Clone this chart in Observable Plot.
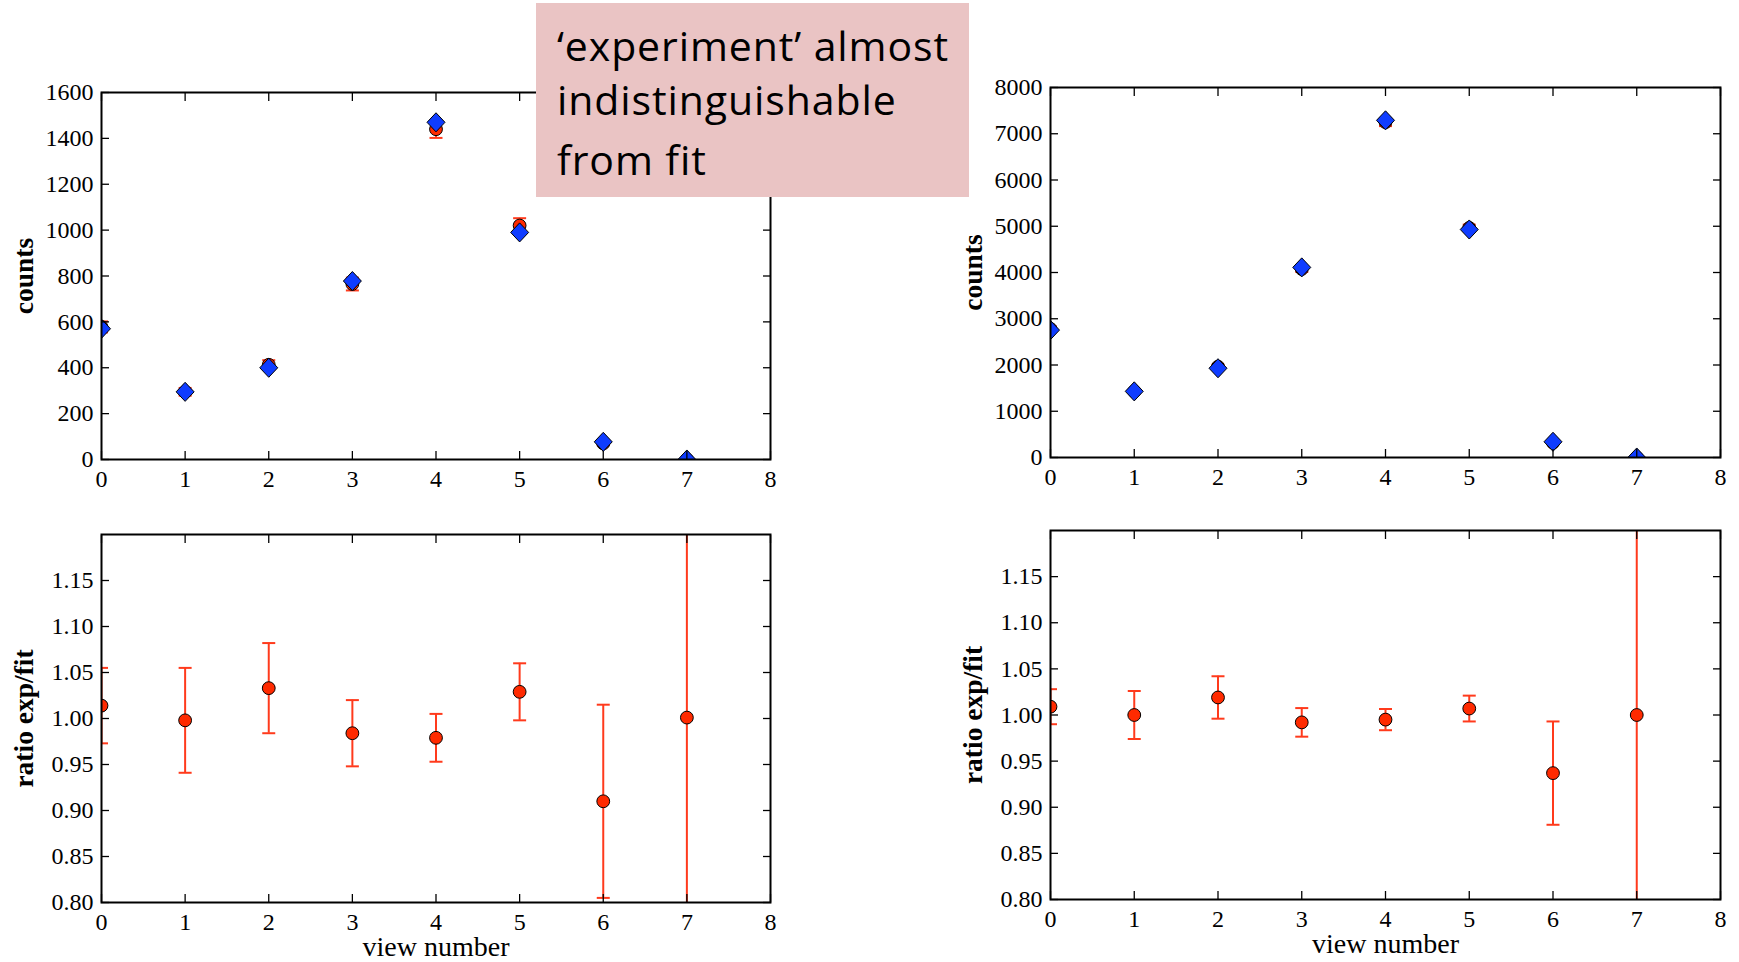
<!DOCTYPE html>
<html>
<head>
<meta charset="utf-8">
<script src="https://cdn.jsdelivr.net/npm/d3@7"></script>
<script src="https://cdn.jsdelivr.net/npm/@observablehq/plot@0.6"></script>
<style>
  html, body { margin: 0; padding: 0; background: #ffffff; }
  #page { position: relative; width: 1739px; height: 962px; overflow: hidden; background: #ffffff; }
  .panel { position: absolute; }
  #note { position: absolute; left: 536px; top: 3px; width: 433px; height: 194px; background: #eac4c4; }
  #note div { position: absolute; left: 21px; font-family: "Open Sans", sans-serif; font-size: 41px; line-height: 41px; letter-spacing: 0.9px; color: #000; white-space: nowrap; }
</style>
</head>
<body>
<div id="page">
  <div class="panel" id="tl" style="left:0px;top:50px"></div>
  <div class="panel" id="tr" style="left:950px;top:40px"></div>
  <div class="panel" id="bl" style="left:0px;top:500px"></div>
  <div class="panel" id="br" style="left:950px;top:500px"></div>
  <div id="note">
    <div style="top:22px">‘experiment’ almost</div>
    <div style="top:76px">indistinguishable</div>
    <div style="top:136px">from fit</div>
  </div>
</div>
<script>
// ---- data ----
const views = [0, 1, 2, 3, 4, 5, 6, 7];
const xTicks = [0, 1, 2, 3, 4, 5, 6, 7, 8];

const leftExp = [578, 295, 413, 765, 1440, 1020, 70, 0];
const leftExpErr = [24, 17, 20, 28, 38, 32, 8, 1];
const leftFit = [570, 295, 400, 778, 1470, 990, 77, 0];
const leftCountTicks = [0, 200, 400, 600, 800, 1000, 1200, 1400, 1600];

const rightExp = [2780, 1430, 1965, 4075, 7250, 4965, 320, 0];
const rightExpErr = [53, 38, 44, 64, 85, 70, 18, 1];
const rightFit = [2755, 1430, 1930, 4110, 7290, 4930, 340, 0];
const rightCountTicks = [0, 1000, 2000, 3000, 4000, 5000, 6000, 7000, 8000];

const leftRatio = [1.014, 0.998, 1.033, 0.984, 0.979, 1.029, 0.910, 1.001];
const leftRatioErr = [0.041, 0.057, 0.049, 0.036, 0.026, 0.031, 0.105, 1.0];
const rightRatio = [1.009, 1.000, 1.019, 0.992, 0.995, 1.007, 0.937, 1.000];
const rightRatioErr = [0.019, 0.026, 0.023, 0.0155, 0.0115, 0.014, 0.056, 1.0];
const ratioTicks = [0.80, 0.85, 0.90, 0.95, 1.00, 1.05, 1.10, 1.15];

// ---- styles ----
const RED = "#ff2a00";
const RED_BAR = "#ff3a1c";
const BLUE = "#0f3cff";

const capSymbol = {
  draw(ctx, size) {
    const r = Math.sqrt(size / Math.PI);
    ctx.moveTo(-r, 0); ctx.lineTo(r, 0);
  }
};
const diamondSymbol = {
  draw(ctx, size) {
    const r = Math.sqrt(size / Math.PI);
    ctx.moveTo(0, -r * 1.06);
    ctx.lineTo(r, 0);
    ctx.lineTo(0, r * 1.06);
    ctx.lineTo(-r, 0);
    ctx.closePath();
  }
};

function rows(vals, errs, fits) {
  return views.map((v, i) => ({
    view: v, val: vals[i], lo: vals[i] - errs[i], hi: vals[i] + errs[i],
    fit: fits ? fits[i] : null
  }));
}

function axes(yTicks, yFmt) {
  const common = {fontSize: 24, strokeWidth: 1.3};
  return [
    Plot.axisX({anchor: "bottom", ticks: xTicks, tickSize: 0, tickPadding: 10, tickFormat: d3.format("d"), label: null, ...common}),
    Plot.axisX({anchor: "bottom", ticks: xTicks, tickSize: -8, tickFormat: () => "", label: null, ...common}),
    Plot.axisX({anchor: "top", ticks: xTicks, tickSize: -8, tickFormat: () => "", label: null, ...common}),
    Plot.axisY({anchor: "left", ticks: yTicks, tickSize: 0, tickPadding: 8, tickFormat: yFmt, label: null, ...common}),
    Plot.axisY({anchor: "left", ticks: yTicks, tickSize: -8, tickFormat: () => "", label: null, ...common}),
    Plot.axisY({anchor: "right", ticks: yTicks, tickSize: -8, tickFormat: () => "", label: null, ...common})
  ];
}

function panel({width, height, margins, yDomain, yTicks, yFmt, data, withFit, yLabel, xLabel}) {
  const marks = [
    Plot.ruleX(data, {x: "view", y1: "lo", y2: "hi", stroke: RED_BAR, strokeWidth: 2, clip: true}),
    Plot.dot(data, {x: "view", y: "lo", symbol: capSymbol, r: 6.5, stroke: RED_BAR, strokeWidth: 2, fill: "none", clip: true}),
    Plot.dot(data, {x: "view", y: "hi", symbol: capSymbol, r: 6.5, stroke: RED_BAR, strokeWidth: 2, fill: "none", clip: true}),
    Plot.dot(data, {x: "view", y: "val", r: 6.4, fill: RED, stroke: "#000", strokeWidth: 1, clip: true})
  ];
  if (withFit) {
    marks.push(Plot.dot(data, {x: "view", y: "fit", symbol: diamondSymbol, r: 9, fill: BLUE, stroke: "#000", strokeWidth: 1, clip: true}));
  }
  marks.push(...axes(yTicks, yFmt));
  marks.push(Plot.frame({stroke: "#000", strokeWidth: 2}));
  marks.push(Plot.text([yLabel], {text: d => d, frameAnchor: "left", textAnchor: "middle", dx: -77, rotate: -90, fontSize: 27.5, fontWeight: "bold", fill: "#000"}));
  if (xLabel) {
    marks.push(Plot.text([xLabel], {text: d => d, frameAnchor: "bottom", textAnchor: "middle", dy: 45, lineAnchor: "middle", fontSize: 28, fill: "#000"}));
  }
  return Plot.plot({
    width, height,
    marginLeft: margins[0], marginRight: margins[1], marginTop: margins[2], marginBottom: margins[3],
    style: {fontFamily: "'Liberation Serif', 'DejaVu Serif', serif", fontSize: "24px", background: "transparent", color: "#000", overflow: "visible"},
    x: {domain: [0, 8]},
    y: {domain: yDomain},
    marks
  });
}

const countFmt = d3.format("d");
const ratioFmt = d3.format(".2f");

document.getElementById("tl").append(panel({
  width: 800, height: 450, margins: [101, 30, 42, 41],
  yDomain: [0, 1600], yTicks: leftCountTicks, yFmt: countFmt,
  data: rows(leftExp, leftExpErr, leftFit), withFit: true, yLabel: "counts"
}));
document.getElementById("tr").append(panel({
  width: 789, height: 460, margins: [100, 19, 47, 43],
  yDomain: [0, 8000], yTicks: rightCountTicks, yFmt: countFmt,
  data: rows(rightExp, rightExpErr, rightFit), withFit: true, yLabel: "counts"
}));
document.getElementById("bl").append(panel({
  width: 800, height: 462, margins: [101, 30, 34, 60],
  yDomain: [0.8, 1.2], yTicks: ratioTicks, yFmt: ratioFmt,
  data: rows(leftRatio, leftRatioErr, null), withFit: false, yLabel: "ratio exp/fit", xLabel: "view number"
}));
document.getElementById("br").append(panel({
  width: 789, height: 462, margins: [100, 19, 30, 63],
  yDomain: [0.8, 1.2], yTicks: ratioTicks, yFmt: ratioFmt,
  data: rows(rightRatio, rightRatioErr, null), withFit: false, yLabel: "ratio exp/fit", xLabel: "view number"
}));
</script>
</body>
</html>
